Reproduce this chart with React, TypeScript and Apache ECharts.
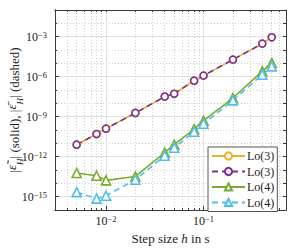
import React, { useEffect, useRef } from "react";
import * as echarts from "echarts";

const stepSizes = [0.005, 0.008, 0.01, 0.02, 0.04, 0.05, 0.08, 0.1, 0.2, 0.4, 0.5];
const lo3Solid = [7.9e-12, 5.0e-11, 1.26e-10, 1.9e-9, 3.2e-8, 5.2e-8, 5.0e-7, 1.2e-6, 1.9e-5, 3.0e-4, 8.9e-4];
const lo3Dashed = [7.9e-12, 5.0e-11, 1.26e-10, 1.9e-9, 3.2e-8, 5.2e-8, 5.0e-7, 1.2e-6, 1.9e-5, 3.0e-4, 8.9e-4];
const lo4Solid = [6.0e-14, 3.7e-14, 1.66e-14, 3.3e-14, 2.0e-12, 7.9e-12, 1.15e-10, 5.0e-10, 2.5e-8, 2.5e-6, 1.07e-5];
const lo4Dashed = [2.2e-15, 7.1e-16, 1.17e-15, 1.86e-14, 1.17e-12, 4.7e-12, 7.4e-11, 2.95e-10, 1.66e-8, 1.41e-6, 5.9e-6];

const xMajorTicks = [0.01, 0.1];
const xMinorTicks = [0.003, 0.004, 0.005, 0.006, 0.007, 0.008, 0.009, 0.02, 0.03, 0.04, 0.05, 0.06, 0.07, 0.08, 0.09, 0.2, 0.3, 0.4, 0.5, 0.6, 0.7];
const yMajorTicks = [1e-15, 1e-12, 1e-9, 1e-6, 1e-3];
const yMinorTicks = [1e-16, 1e-14, 1e-13, 1e-11, 1e-10, 1e-8, 1e-7, 1e-5, 1e-4, 1e-2, 1e-1];

const FONT = "Liberation Serif";
const AXIS_COLOR = "#3a3a3a";

const powLabel = (v: number) => {
  const e = Math.round(Math.log10(v));
  return `{b|10}{sup|${e < 0 ? "\u2212" + -e : e}}`;
};
const powRich = {
  b: { fontFamily: FONT, fontSize: 12, color: "#222", verticalAlign: "bottom", lineHeight: 13 },
  sup: { fontFamily: FONT, fontSize: 8.5, color: "#222", verticalAlign: "top", lineHeight: 8 },
};

export default function App() {
  const ref = useRef<HTMLDivElement>(null);
  useEffect(() => {
    if (!ref.current) return;
    const chart = echarts.init(ref.current, undefined, { renderer: "svg" });
    const xRange = { min: 0.003, max: 0.7, logBase: 10 };
    const yRange = { min: 1e-16, max: 1e-1, logBase: 10 };
    const hidden = { show: false };
    const mkX = (pos: string, ticks: number[], opts: any) => ({
      type: "log",
      ...xRange,
      position: pos,
      gridIndex: 0,
      axisLine: { show: true, lineStyle: { color: AXIS_COLOR, width: 1 } },
      axisTick: { show: true, inside: true, length: opts.tickLen, customValues: ticks, lineStyle: { color: AXIS_COLOR } },
      axisLabel: opts.labels
        ? { show: true, customValues: ticks, formatter: powLabel, rich: powRich, margin: 4 }
        : hidden,
      splitLine: opts.split ? { show: true, lineStyle: opts.split } : hidden,
      minorTick: hidden,
      nameMoveOverlap: false,
      ...(opts.name || {}),
    });
    const mkY = (pos: string, ticks: number[], opts: any) => ({
      type: "log",
      ...yRange,
      position: pos,
      gridIndex: 0,
      axisLine: { show: true, lineStyle: { color: AXIS_COLOR, width: 1 } },
      axisTick: { show: true, inside: true, length: opts.tickLen, customValues: ticks, lineStyle: { color: AXIS_COLOR } },
      axisLabel: opts.labels
        ? { show: true, customValues: ticks, formatter: powLabel, rich: powRich, margin: 8 }
        : hidden,
      splitLine: opts.split ? { show: true, lineStyle: opts.split } : hidden,
      minorTick: hidden,
      nameMoveOverlap: false,
      ...(opts.name || {}),
    });
    const majorSplit = { color: "#e2e2e2", width: 1, type: "solid" };
    const minorSplit = { color: "#cfcfcf", width: 1, type: [1, 2] };

    const lineSeries = (name: string, data: number[], color: string, dashed: boolean, symbol: string, size: number) => ({
      name,
      type: "line",
      xAxisIndex: 0,
      yAxisIndex: 0,
      data: stepSizes.map((h, i) => [h, data[i]]),
      symbol,
      symbolSize: size,
      showAllSymbol: true,
      lineStyle: { color, width: 1.6, type: dashed ? [6, 4] : "solid" },
      itemStyle: { color: "#ffffff", borderColor: color, borderWidth: 1.6 },
      emphasis: { disabled: true },
    });

    chart.setOption({
      animation: false,
      backgroundColor: "#ffffff",
      grid: { left: 55, right: 13, top: 10, bottom: 42, containLabel: false, outerBoundsMode: "none" },
      xAxis: [
        mkX("bottom", xMajorTicks, {
          tickLen: 4,
          labels: true,
          split: majorSplit,
          name: {
            name: "Step size {i|h} in s",
            nameLocation: "middle",
            nameGap: 22,
            nameTextStyle: {
              fontFamily: FONT,
              fontSize: 13,
              color: "#222",
              rich: { i: { fontFamily: FONT, fontSize: 13, fontStyle: "italic", color: "#222" } },
            },
          },
        }),
        mkX("bottom", xMinorTicks, { tickLen: 2, labels: false, split: minorSplit }),
        mkX("top", [...xMajorTicks, ...xMinorTicks], { tickLen: 2, labels: false, split: null }),
      ],
      yAxis: [
        mkY("left", yMajorTicks, {
          tickLen: 4,
          labels: true,
          split: majorSplit,
          name: {
            name: "|{i|\u03B5\u0303}{sub|H}| (solid), |{i|\u03B5\u0304}{sub|H}| (dashed)",
            nameLocation: "middle",
            nameRotate: 90,
            nameGap: 31,
            nameTextStyle: {
              fontFamily: FONT,
              fontSize: 13,
              color: "#222",
              rich: {
                i: { fontFamily: FONT, fontSize: 13, fontStyle: "italic", color: "#222", verticalAlign: "top", lineHeight: 15 },
                sub: { fontFamily: FONT, fontSize: 9, fontStyle: "italic", color: "#222", verticalAlign: "bottom", lineHeight: 19 },
              },
            },
          },
        }),
        mkY("left", yMinorTicks, { tickLen: 2, labels: false, split: minorSplit }),
        mkY("right", [...yMajorTicks, ...yMinorTicks], { tickLen: 3, labels: false, split: null }),
      ],
      legend: {
        show: true,
        left: 208,
        top: 147,
        orient: "vertical",
        itemWidth: 33,
        itemHeight: 9,
        itemGap: 3.5,
        padding: [3, 3, 3, 3],
        borderColor: "#555",
        borderWidth: 1,
        borderRadius: 0,
        backgroundColor: "#ffffff",
        textStyle: { fontFamily: FONT, fontSize: 12, color: "#222", padding: [0, 0, 0, -3] },
        data: ["Lo(3) s", "Lo(3) d", "Lo(4) s", "Lo(4) d"],
        formatter: (n: string) => n.slice(0, 5),
      },
      series: [
        lineSeries("Lo(3) s", lo3Solid, "#EDB120", false, "circle", 7),
        lineSeries("Lo(3) d", lo3Dashed, "#7E2F8E", true, "circle", 7),
        lineSeries("Lo(4) s", lo4Solid, "#77AC30", false, "triangle", 9),
        lineSeries("Lo(4) d", lo4Dashed, "#4DBEEE", true, "triangle", 9),
      ],
    });
    return () => chart.dispose();
  }, []);
  return <div ref={ref} style={{ position: "fixed", left: 0, top: 0, width: 299, height: 252 }} />;
}
